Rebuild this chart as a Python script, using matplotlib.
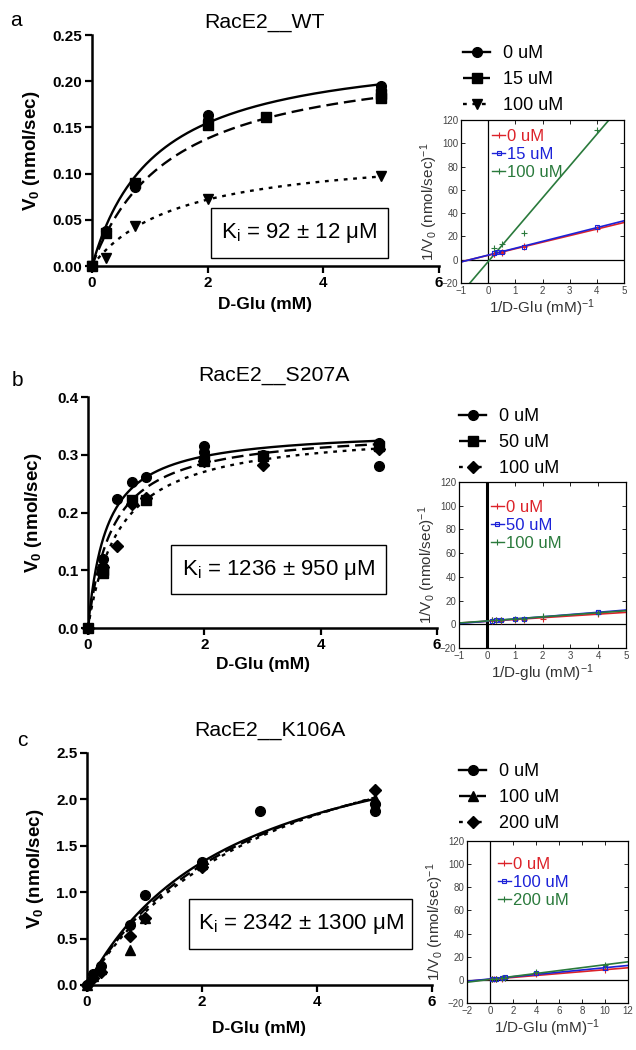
import numpy as np
import matplotlib
matplotlib.use('Agg')
import matplotlib.pyplot as plt
from matplotlib.lines import Line2D
from matplotlib.patches import Rectangle
import matplotlib.transforms as mtransforms

plt.rcParams['font.family'] = ['Liberation Sans', 'DejaVu Sans']
plt.rcParams['mathtext.fontset'] = 'custom'
plt.rcParams['mathtext.rm'] = 'Liberation Sans'
plt.rcParams['mathtext.it'] = 'Liberation Sans:italic'
plt.rcParams['mathtext.bf'] = 'Liberation Sans:bold'

# ---------------- data ----------------
# Panel a: RacE2__WT
a_conc = ['0 uM', '15 uM', '100 uM']
a_S0 = [0, 0.25, 0.75, 0.75, 2, 2, 5, 5]
a_V0 = [0, 0.038, 0.085, 0.090, 0.163, 0.158, 0.195, 0.190]
a_S1 = [0, 0.25, 0.75, 2, 3, 5, 5]
a_V1 = [0, 0.036, 0.090, 0.153, 0.161, 0.186, 0.182]
a_S2 = [0, 0.25, 0.75, 2, 5]
a_V2 = [0, 0.009, 0.043, 0.072, 0.097]
a_vmax = [0.240, 0.233, 0.126]
a_km = [1.10, 1.377, 1.506]
a_ki = "92 ± 12"

# Panel b: RacE2__S207A
b_conc = ['0 uM', '50 uM', '100 uM']
b_S0 = [0, 0.25, 0.25, 0.5, 0.75, 1, 2, 2, 3, 5, 5]
b_V0 = [0, 0.120, 0.105, 0.224, 0.252, 0.262, 0.316, 0.305, 0.300, 0.320, 0.280]
b_S1 = [0, 0.25, 0.25, 0.75, 1, 2, 3, 5]
b_V1 = [0, 0.096, 0.100, 0.222, 0.222, 0.289, 0.297, 0.315]
b_S2 = [0, 0.25, 0.5, 0.75, 1, 2, 3, 5]
b_V2 = [0, 0.105, 0.142, 0.215, 0.225, 0.290, 0.283, 0.310]
b_vmax = [0.345, 0.345, 0.345]
b_km = [0.32, 0.42, 0.55]
b_ki = "1236 ± 950"

# Panel c: RacE2__K106A
c_conc = ['0 uM', '100 uM', '200 uM']
c_S0 = [0, 0.1, 0.25, 0.75, 1, 2, 2, 3, 5, 5]
c_V0 = [0, 0.12, 0.20, 0.65, 0.97, 1.33, 1.28, 1.88, 1.87, 1.95]
c_S1 = [0, 0.1, 0.25, 0.75, 1, 2, 5]
c_V1 = [0, 0.10, 0.17, 0.38, 0.72, 1.30, 2.00]
c_S2 = [0, 0.1, 0.25, 0.75, 1, 2, 5]
c_V2 = [0, 0.08, 0.14, 0.53, 0.72, 1.27, 2.10]
c_vmax = [3.05, 3.20, 3.35]
c_km = [2.61, 2.95, 3.30]
c_ki = "2342 ± 1300"

# ---------------- layout helpers ----------------
W, H = 636, 1050
fig = plt.figure(figsize=(W / 100, H / 100), dpi=100)


def rect(x0, y0, x1, y1):
    return [x0 / W, 1 - y1 / H, (x1 - x0) / W, (y1 - y0) / H]


main_markers = {'a': ['o', 's', 'v'], 'b': ['o', 's', 'D'], 'c': ['o', '^', 'D']}
main_ms = {'o': 7, 's': 7, 'v': 7.5, 'D': 6, '^': 7.5}
line_styles = ['-', (0, (5, 2.5)), (0, (1.6, 2.4))]
inset_colors = ['#dc2229', '#1c22d8', '#2a7a3c']
inset_markers = ['+', 's', '+']


def main_panel(box, ymax, yticks, yfmt, series, vmax, km, markers, ki, kibox,
               title, tpos, letter, lpos, ylab_x, xlab_y):
    ax = fig.add_axes(rect(*box))
    s = np.linspace(0, 5, 300)
    for (S, V), vm, k, mk, ls in zip(series, vmax, km, markers, line_styles):
        ax.plot(s, vm * s / (k + s), color='k', ls=ls, lw=1.7)
        ax.plot(S, V, ls='none', marker=mk, color='k', ms=main_ms[mk],
                clip_on=False, zorder=4)
    ax.set_xlim(0, 6)
    ax.set_ylim(0, ymax)
    ax.set_xticks([0, 2, 4, 6])
    ax.set_yticks(yticks)
    ax.set_yticklabels([yfmt.format(v) for v in yticks])
    for sp in ['top', 'right']:
        ax.spines[sp].set_visible(False)
    for sp in ['left', 'bottom']:
        ax.spines[sp].set_linewidth(1.8)
    ax.tick_params(direction='out', length=5, width=1.6, labelsize=11, pad=2)
    for t in ax.get_xticklabels() + ax.get_yticklabels():
        t.set_fontweight('bold')
    ax.set_xlabel('D-Glu (mM)', fontsize=12.5, fontweight='bold')
    ax.set_ylabel(r'V$_\mathbf{0}$ (nmol/sec)', fontsize=13.5, fontweight='bold')
    ax.yaxis.set_label_coords(ylab_x / W, 0.5,
                              transform=mtransforms.blended_transform_factory(fig.transFigure, ax.transAxes))
    ax.xaxis.set_label_coords(0.5, 1 - xlab_y / H,
                              transform=mtransforms.blended_transform_factory(ax.transAxes, fig.transFigure))
    # Ki box
    x0, y0, x1, y1 = kibox
    fig.patches.append(Rectangle((x0 / W, 1 - y1 / H), (x1 - x0) / W, (y1 - y0) / H,
                                 transform=fig.transFigure, fc='white', ec='k', lw=1.0, zorder=5))
    fig.text((x0 + x1) / 2 / W, 1 - (y0 + y1) / 2 / H, r'K$_\mathregular{i}$ = ' + ki + ' μM',
             ha='center', va='center', fontsize=16, zorder=6)
    fig.text(tpos[0] / W, 1 - tpos[1] / H, title, ha='center', va='center', fontsize=15.3)
    fig.text(lpos[0] / W, 1 - lpos[1] / H, letter, ha='left', va='center', fontsize=15)
    return ax


def outer_legend(markers, labels, xy):
    handles = [Line2D([], [], color='k', ls=ls, lw=1.7, marker=mk, ms=main_ms[mk])
               for mk, ls in zip(markers, line_styles)]
    fig.legend(handles, labels, loc='upper left', bbox_to_anchor=(xy[0] / W, 1 - xy[1] / H),
               frameon=False, fontsize=13, handlelength=1.5, handletextpad=0.7,
               labelspacing=0.5, borderpad=0, borderaxespad=0)


def inset(box, xlim, xticks, series, labels, xlabel, thick_v, leg_xy):
    ax = fig.add_axes(rect(*box))
    ax.set_xlim(*xlim)
    ax.set_ylim(-20, 120)
    ax.set_xticks(xticks)
    ax.set_yticks(np.arange(-20, 121, 20))
    ax.axhline(0, color='k', lw=0.9, zorder=1)
    ax.axvline(0, color='k', lw=2.2 if thick_v else 0.9, zorder=1)
    xs = np.array(xlim, dtype=float)
    handles = []
    for (S, V), c, m in zip(series, inset_colors, inset_markers):
        S = np.asarray(S, float)
        V = np.asarray(V, float)
        keep = S > 0
        x, y = 1 / S[keep], 1 / V[keep]
        k, b0 = np.polyfit(x, y, 1)
        ax.plot(xs, k * xs + b0, color=c, lw=1.2, zorder=2)
        ax.plot(x, y, ls='none', marker=m, color=c, ms=3.5 if m == 's' else 4.5,
                mfc='none' if m == 's' else c, mew=0.8, zorder=3, clip_on=True)
        handles.append(Line2D([], [], color=c, lw=1.0, marker=m, ms=3 if m == 's' else 4,
                              mfc='none' if m == 's' else c, mew=0.8))
    for sp in ax.spines.values():
        sp.set_linewidth(0.9)
    ax.tick_params(direction='in', top=True, right=True, length=3, width=0.6,
                   labelsize=7, labelcolor='#444444', pad=2)
    ax.set_xlabel(xlabel, fontsize=11, color='#333333', labelpad=1)
    ax.set_ylabel(r'1/V$_0$ (nmol/sec)$^{-1}$', fontsize=11, color='#333333', labelpad=1)
    ax.legend(handles, labels, loc='upper left', bbox_to_anchor=leg_xy, frameon=False,
              fontsize=12, handlelength=0.8, handletextpad=0.1, labelspacing=0.18,
              borderpad=0, borderaxespad=0, labelcolor='linecolor')
    return ax


# ---------------- panel a ----------------
main_panel((92, 35, 439, 266), 0.25, [0, 0.05, 0.10, 0.15, 0.20, 0.25], '{:.2f}',
           [(a_S0, a_V0), (a_S1, a_V1), (a_S2, a_V2)], a_vmax, a_km, main_markers['a'],
           a_ki, (211, 208, 388, 258), 'RacE2__WT', (265, 22), 'a', (10, 20), 42, 297)
outer_legend(main_markers['a'], a_conc, (463, 45))
inset((461, 120, 624, 283), (-1, 5), np.arange(-1, 6, 1),
      [(a_S0, a_V0), (a_S1, a_V1), (a_S2, a_V2)], a_conc,
      r'1/D-Glu (mM)$^{-1}$', False, (0.19, 0.945))

# ---------------- panel b ----------------
main_panel((88, 397, 437, 628), 0.4, [0, 0.1, 0.2, 0.3, 0.4], '{:.1f}',
           [(b_S0, b_V0), (b_S1, b_V1), (b_S2, b_V2)], b_vmax, b_km, main_markers['b'],
           b_ki, (171, 545, 386, 594), 'RacE2__S207A', (274, 375), 'b', (12, 380), 44, 657)
outer_legend(main_markers['b'], b_conc, (459, 408))
inset((459, 482, 626, 648), (-1, 5), np.arange(-1, 6, 1),
      [(b_S0, b_V0), (b_S1, b_V1), (b_S2, b_V2)], b_conc,
      r'1/D-glu (mM)$^{-1}$', True, (0.19, 0.89))

# ---------------- panel c ----------------
main_panel((87, 753, 432, 985), 2.5, [0, 0.5, 1.0, 1.5, 2.0, 2.5], '{:.1f}',
           [(c_S0, c_V0), (c_S1, c_V1), (c_S2, c_V2)], c_vmax, c_km, main_markers['c'],
           c_ki, (189, 899, 412, 949), 'RacE2__K106A', (270, 730), 'c', (17, 740), 46, 1021)
outer_legend(main_markers['c'], c_conc, (459, 763))
inset((467, 841, 628, 1003), (-2, 12), np.arange(-2, 13, 2),
      [(c_S0, c_V0), (c_S1, c_V1), (c_S2, c_V2)], c_conc,
      r'1/D-Glu (mM)$^{-1}$', False, (0.19, 0.9))

fig.savefig('out.png', dpi=100, facecolor='white')
